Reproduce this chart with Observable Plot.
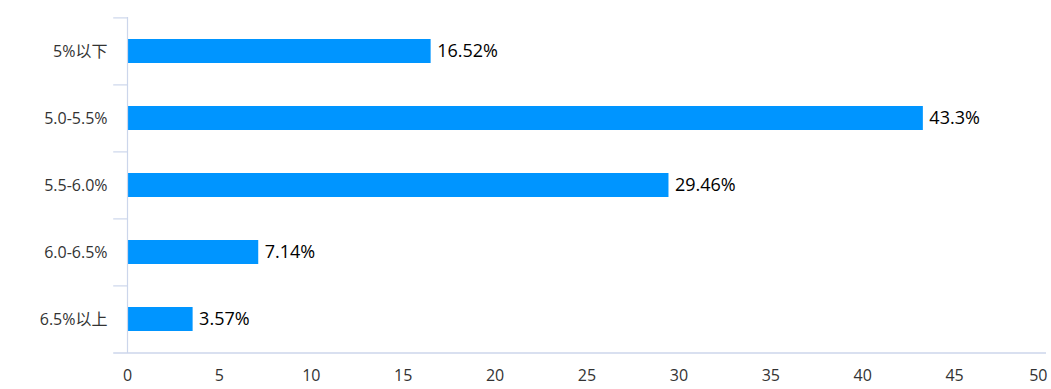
<!DOCTYPE html>
<html>
<head>
<meta charset="utf-8">
<script src="https://cdn.jsdelivr.net/npm/d3@7"></script>
<script src="https://cdn.jsdelivr.net/npm/@observablehq/plot@0.6"></script>
<style>
  html, body { margin: 0; padding: 0; background: #fff; }
  svg { display: block; }
  g[aria-label$="tick label"], g[aria-label$="tick label"] text { font-size: 16px; }
</style>
</head>
<body>
<div id="chart"></div>
<script>
const categories = ["5%以下", "5.0-5.5%", "5.5-6.0%", "6.0-6.5%", "6.5%以上"];
const values = [16.52, 43.3, 29.46, 7.14, 3.57];
const labels = ["16.52%", "43.3%", "29.46%", "7.14%", "3.57%"];
const xTicks = [0, 5, 10, 15, 20, 25, 30, 35, 40, 45, 50];

const data = categories.map((c, i) => ({cat: c, value: values[i], label: labels[i]}));
const axisColor = "#ccd6eb";
const mTop = 17, mBottom = 36, H = 389;
const step = (H - mTop - mBottom) / categories.length;
const pad = 1 - 24 / step;

const chart = Plot.plot({
  width: 1051,
  height: H,
  marginLeft: 127,
  marginRight: 5,
  marginTop: mTop,
  marginBottom: mBottom,
  style: {fontFamily: "'Open Sans', 'Noto Sans CJK SC', sans-serif", fontSize: "16px", background: "#fff"},
  x: {domain: [0, 50], label: null},
  y: {domain: categories, paddingInner: pad, paddingOuter: pad / 2, label: null},
  marks: [
    Plot.axisX(xTicks.slice(0, -1), {tickSize: 0, tickPadding: 16, fontSize: 16, fill: "#333", label: null, tickFormat: d => String(d)}),
    Plot.axisX(xTicks.slice(-1), {tickSize: 0, tickPadding: 16, fontSize: 16, fill: "#333", label: null, textAnchor: "end", dx: 1, tickFormat: d => String(d)}),
    Plot.axisY({tickSize: 0, tickPadding: 20, fontSize: 16, fill: "#333", label: null}),
    Plot.barX(data, {y: "cat", x: "value", fill: "#0095ff"}),
    Plot.ruleX([0], {stroke: axisColor, strokeWidth: 1.2}),
    Plot.ruleY(categories, {y: d => d, x1: -0.75, x2: 0, dy: -step / 2, stroke: axisColor, strokeWidth: 1.2}),
    Plot.ruleY([categories[categories.length - 1]], {y: d => d, x1: -0.75, x2: 50, dy: step / 2, stroke: axisColor, strokeWidth: 1.5}),
    Plot.text(data, {y: "cat", x: "value", text: "label", textAnchor: "start", dx: 6, fontSize: 18, fill: "#000"})
  ]
});
document.getElementById("chart").appendChild(chart);
</script>
</body>
</html>
